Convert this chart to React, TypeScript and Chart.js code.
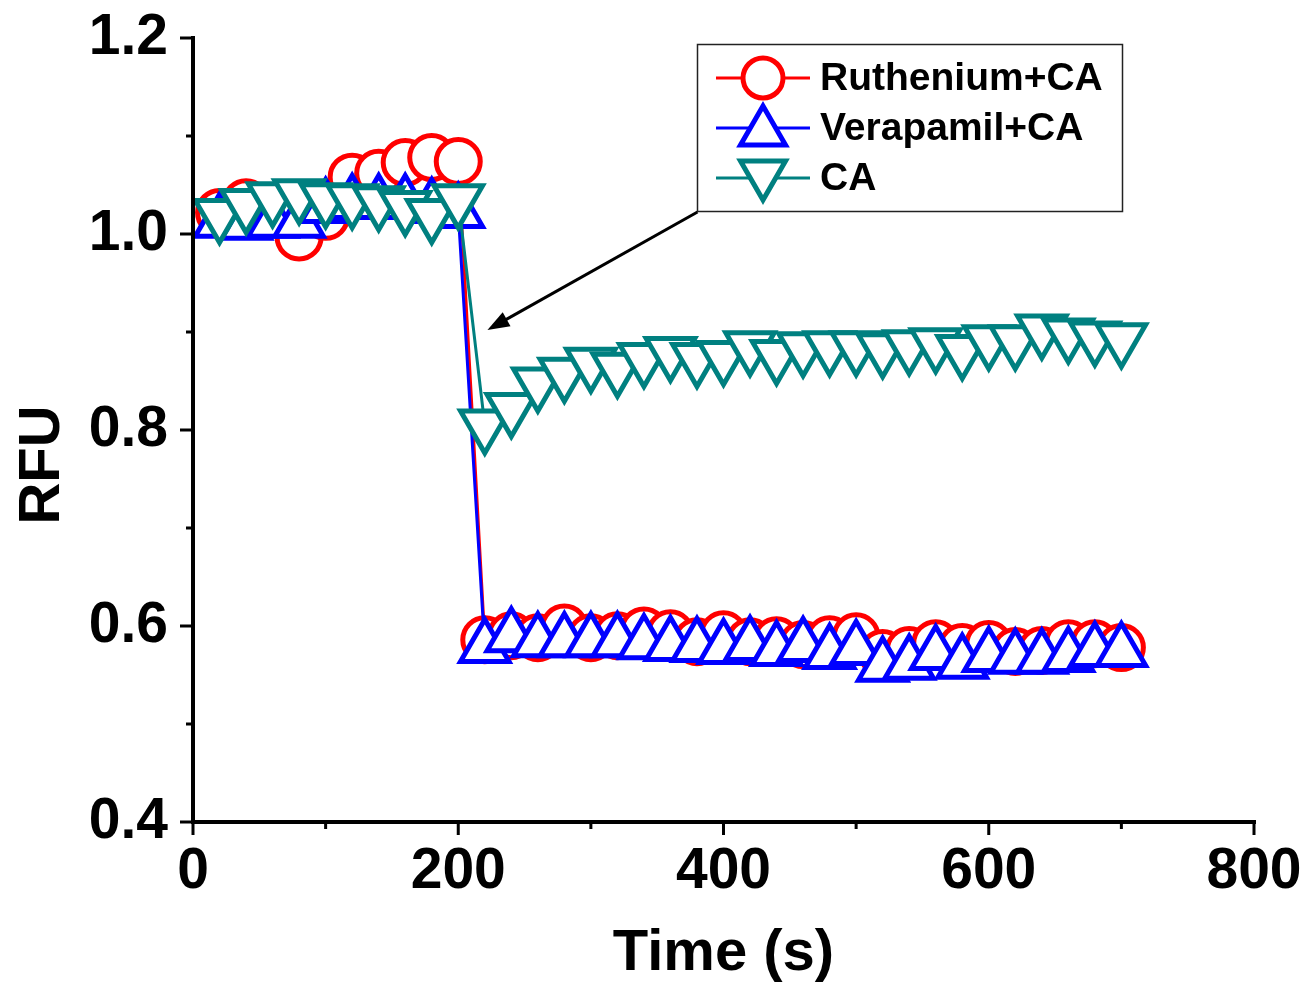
import React, { useEffect, useRef } from 'react';
import { Chart, registerables } from 'chart.js';

Chart.register(...registerables);

// ---- data ----
const timeS = [20, 40, 60, 80, 100, 120, 140, 160, 180, 200, 220, 240, 260, 280, 300, 320, 340, 360, 380, 400, 420, 440, 460, 480, 500, 520, 540, 560, 580, 600, 620, 640, 660, 680, 700];

const rutheniumCA = [1.022, 1.032, 1.025, 0.997, 1.018, 1.058, 1.062, 1.073, 1.078, 1.074,
  0.586, 0.590, 0.588, 0.598, 0.588, 0.590, 0.595, 0.592, 0.584, 0.591, 0.584, 0.585, 0.581, 0.586, 0.589,
  0.572, 0.575, 0.582, 0.578, 0.581, 0.574, 0.575, 0.582, 0.582, 0.578];

const verapamilCA = [1.012, 1.010, 1.012, 1.012, 1.027, 1.031, 1.031, 1.031, 1.027, 1.022,
  0.578, 0.589, 0.584, 0.584, 0.584, 0.584, 0.582, 0.580, 0.579, 0.577, 0.580, 0.575, 0.579, 0.572, 0.576,
  0.559, 0.561, 0.571, 0.562, 0.569, 0.567, 0.567, 0.569, 0.574, 0.574];

const caOnly = [1.020, 1.030, 1.037, 1.040, 1.036, 1.035, 1.033, 1.028, 1.020, 1.035,
  0.805, 0.822, 0.848, 0.858, 0.868, 0.863, 0.873, 0.879, 0.873, 0.875, 0.885, 0.876, 0.884, 0.885, 0.885,
  0.883, 0.886, 0.888, 0.881, 0.891, 0.891, 0.902, 0.898, 0.895, 0.893];

const seriesNames = ['Ruthenium+CA', 'Verapamil+CA', 'CA'];
const seriesColors = ['#ff0000', '#0000ff', '#008080'];
const xTickValues = [0, 200, 400, 600, 800];
const yTickValues = [0.4, 0.6, 0.8, 1.0, 1.2];
const xTitle = 'Time (s)';
const yTitle = 'RFU';

const FONT = '"Liberation Sans", Arial, sans-serif';

function drawMarker(ctx: CanvasRenderingContext2D, kind: string, x: number, y: number, r: number, color: string) {
  ctx.save();
  ctx.lineWidth = 5;
  ctx.strokeStyle = color;
  ctx.fillStyle = '#ffffff';
  ctx.beginPath();
  if (kind === 'circle') {
    ctx.arc(x, y, r, 0, Math.PI * 2);
  } else {
    let rad = kind === 'down' ? Math.PI : 0;
    for (let i = 0; i < 3; i++) {
      const px = x + Math.sin(rad) * r;
      const py = y - Math.cos(rad) * r;
      if (i === 0) ctx.moveTo(px, py); else ctx.lineTo(px, py);
      rad += (2 * Math.PI) / 3;
    }
    ctx.closePath();
  }
  ctx.fill();
  ctx.stroke();
  ctx.restore();
}

const overlayPlugin = {
  id: 'overlay',
  afterDraw(chart: any) {
    const ctx: CanvasRenderingContext2D = chart.ctx;
    const area = chart.chartArea;
    const xs = chart.scales.x;
    const ys = chart.scales.y;
    ctx.save();
    ctx.strokeStyle = '#000';
    ctx.lineCap = 'butt';
    // axis lines
    ctx.lineWidth = 4;
    ctx.beginPath();
    ctx.moveTo(area.left, area.top - 2);
    ctx.lineTo(area.left, area.bottom + 2);
    ctx.moveTo(area.left - 2, area.bottom);
    ctx.lineTo(area.right + 2, area.bottom);
    ctx.stroke();
    // ticks
    ctx.lineWidth = 3;
    ctx.beginPath();
    for (let i = 0; i < yTickValues.length; i++) {
      const p = ys.getPixelForValue(yTickValues[i]);
      ctx.moveTo(area.left, p);
      ctx.lineTo(area.left - 13, p);
      if (i < yTickValues.length - 1) {
        const m = ys.getPixelForValue((yTickValues[i] + yTickValues[i + 1]) / 2);
        ctx.moveTo(area.left, m);
        ctx.lineTo(area.left - 7, m);
      }
    }
    for (let i = 0; i < xTickValues.length; i++) {
      const p = xs.getPixelForValue(xTickValues[i]);
      ctx.moveTo(p, area.bottom);
      ctx.lineTo(p, area.bottom + 13);
      if (i < xTickValues.length - 1) {
        const m = xs.getPixelForValue((xTickValues[i] + xTickValues[i + 1]) / 2);
        ctx.moveTo(m, area.bottom);
        ctx.lineTo(m, area.bottom + 7);
      }
    }
    ctx.stroke();

    // axis titles
    ctx.fillStyle = '#000';
    ctx.font = `bold 58px ${FONT}`;
    ctx.textAlign = 'center';
    ctx.textBaseline = 'alphabetic';
    ctx.fillText(xTitle, (area.left + area.right) / 2, 970);
    ctx.save();
    ctx.translate(59, 465);
    ctx.rotate(-Math.PI / 2);
    ctx.fillText(yTitle, 0, 0);
    ctx.restore();

    // arrow annotation
    const ax0 = xs.getPixelForValue(380.4), ay0 = ys.getPixelForValue(1.0224);
    const ax1 = xs.getPixelForValue(222), ay1 = ys.getPixelForValue(0.902);
    const ang = Math.atan2(ay1 - ay0, ax1 - ax0);
    ctx.lineWidth = 3;
    ctx.beginPath();
    ctx.moveTo(ax0, ay0);
    ctx.lineTo(ax1 - Math.cos(ang) * 12, ay1 - Math.sin(ang) * 12);
    ctx.stroke();
    ctx.beginPath();
    ctx.moveTo(ax1, ay1);
    ctx.lineTo(ax1 - Math.cos(ang) * 22 + Math.sin(ang) * 8, ay1 - Math.sin(ang) * 22 - Math.cos(ang) * 8);
    ctx.lineTo(ax1 - Math.cos(ang) * 22 - Math.sin(ang) * 8, ay1 - Math.sin(ang) * 22 + Math.cos(ang) * 8);
    ctx.closePath();
    ctx.fill();

    // legend box
    ctx.lineWidth = 1.5;
    ctx.strokeStyle = '#222';
    ctx.strokeRect(697.5, 44.5, 425, 167);
    const kinds = ['circle', 'up', 'down'];
    const rowY = [78, 128, 178];
    for (let i = 0; i < 3; i++) {
      const cy = rowY[i];
      ctx.strokeStyle = seriesColors[i];
      ctx.lineWidth = 3;
      ctx.beginPath();
      ctx.moveTo(716, cy);
      ctx.lineTo(810, cy);
      ctx.stroke();
      const r = kinds[i] === 'circle' ? 20 : 26;
      const my = kinds[i] === 'up' ? cy + 4 : kinds[i] === 'down' ? cy - 4 : cy;
      drawMarker(ctx, kinds[i], 763, my, r, seriesColors[i]);
      ctx.fillStyle = '#000';
      ctx.font = `bold 39px ${FONT}`;
      ctx.textAlign = 'left';
      ctx.textBaseline = 'middle';
      ctx.fillText(seriesNames[i], 820, cy + 1);
    }
    ctx.restore();
  },
};

export default function App() {
  const canvasRef = useRef<HTMLCanvasElement | null>(null);

  useEffect(() => {
    document.body.style.margin = '0';
    const canvas = canvasRef.current;
    if (!canvas) return;
    const mk = (vals: number[]) => timeS.map((t, i) => ({ x: t, y: vals[i] }));
    const chart = new Chart(canvas, {
      type: 'line',
      data: {
        datasets: [
          {
            label: seriesNames[0],
            data: mk(rutheniumCA),
            borderColor: seriesColors[0],
            backgroundColor: '#ffffff',
            pointBackgroundColor: '#ffffff',
            pointBorderColor: seriesColors[0],
            pointStyle: 'circle',
            pointRadius: 22,
            pointBorderWidth: 5,
            borderWidth: 3,
            tension: 0,
            order: 3,
            clip: false,
          } as any,
          {
            label: seriesNames[1],
            data: mk(verapamilCA),
            borderColor: seriesColors[1],
            backgroundColor: '#ffffff',
            pointBackgroundColor: '#ffffff',
            pointBorderColor: seriesColors[1],
            pointStyle: 'triangle',
            pointRadius: 28,
            pointBorderWidth: 5,
            borderWidth: 3,
            tension: 0,
            order: 2,
            clip: false,
          } as any,
          {
            label: seriesNames[2],
            data: mk(caOnly),
            borderColor: seriesColors[2],
            backgroundColor: '#ffffff',
            pointBackgroundColor: '#ffffff',
            pointBorderColor: seriesColors[2],
            pointStyle: 'triangle',
            pointRotation: 180,
            pointRadius: 28,
            pointBorderWidth: 5,
            borderWidth: 3,
            tension: 0,
            order: 1,
            clip: false,
          } as any,
        ],
      },
      options: {
        responsive: false,
        animation: false,
        layout: { padding: { top: 38, right: 58, left: 0, bottom: 0 } },
        plugins: { legend: { display: false }, tooltip: { enabled: false } },
        events: [],
        scales: {
          x: {
            type: 'linear',
            min: 0,
            max: 800,
            grid: { display: false, drawTicks: false },
            border: { display: false },
            afterBuildTicks: (s: any) => { s.ticks = xTickValues.map((v) => ({ value: v })); },
            afterFit: (s: any) => { s.height = 163; s.paddingLeft = 0; s.paddingRight = 0; },
            ticks: {
              color: '#000',
              padding: 16,
              maxRotation: 0,
              font: { family: FONT, size: 57, weight: 'bold' },
              callback: (v: any) => String(v),
            },
          },
          y: {
            type: 'linear',
            min: 0.4,
            max: 1.2,
            grid: { display: false, drawTicks: false },
            border: { display: false },
            afterBuildTicks: (s: any) => { s.ticks = yTickValues.map((v) => ({ value: v })); },
            afterFit: (s: any) => { s.width = 193; s.paddingTop = 0; s.paddingBottom = 0; },
            ticks: {
              color: '#000',
              padding: 25,
              font: { family: FONT, size: 57, weight: 'bold' },
              callback: (v: any) => Number(v).toFixed(1),
            },
          },
        },
      },
      plugins: [overlayPlugin],
    } as any);
    return () => chart.destroy();
  }, []);

  return (
    <div style={{ position: 'absolute', left: 0, top: 0, width: 1312, height: 985, background: '#fff' }}>
      <canvas ref={canvasRef} width={1312} height={985} />
    </div>
  );
}
